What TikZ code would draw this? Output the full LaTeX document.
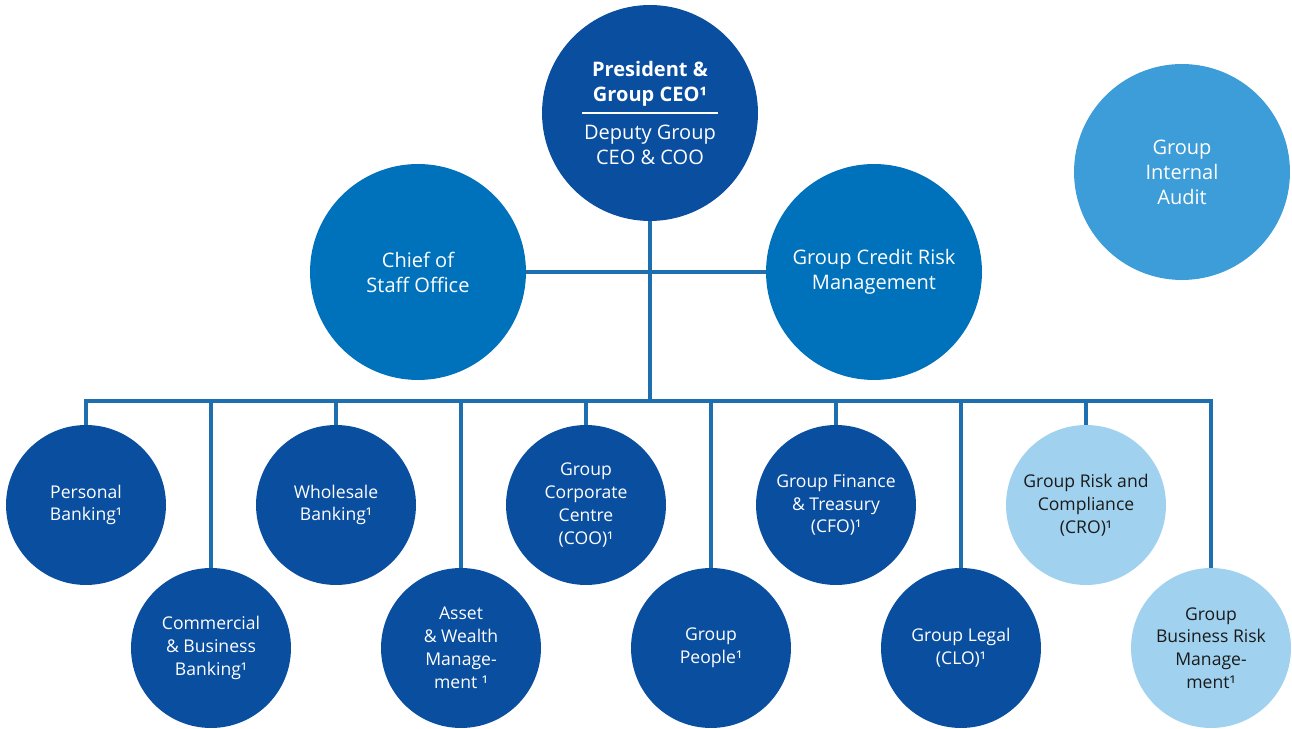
\documentclass[tikz,border=0pt]{standalone}
\usepackage{fontspec}
\setmainfont{Open Sans}
\usepackage{xcolor}
\usetikzlibrary{positioning}
\definecolor{navy}{HTML}{0A4EA0}
\definecolor{mid}{HTML}{0072BC}
\definecolor{sky}{HTML}{3D9DD8}
\definecolor{pale}{HTML}{A0D2F0}
\definecolor{wire}{HTML}{1E6FAF}
\definecolor{txt}{HTML}{1A1A1A}

\tikzset{
  unit/.style={circle,inner sep=0pt,align=center,text=white},
  big/.style={unit,minimum size=4.32cm,font=\fontsize{11.4}{14.2}\selectfont},
  small/.style={unit,minimum size=3.2cm,fill=navy,font=\fontsize{10}{13}\selectfont},
  paleunit/.style={small,fill=pale,text=txt},
  link/.style={wire,line width=2.3pt}
}

\begin{document}
\begin{tikzpicture}[x=0.02cm,y=-0.02cm]
  \useasboundingbox(0,0)rectangle(1292,729);
  % top level
  \node[big,fill=navy](ceo)at(650,113){\textbf{President \&}\\\textbf{Group CEO¹}\\[7pt]Deputy Group\\CEO \& COO};
  \draw[white,line width=0.6pt](582,113)--(718,113);
  \node[big,fill=mid](cos)at(418,272){Chief of\\Staff Office};
  \node[big,fill=mid](gcrm)at(874,272){Group Credit Risk\\Management};
  \node[big,fill=sky](gia)at(1182,172){Group\\Internal\\Audit};
  % business units
  \node[small](pb)at(86,505){Personal\\Banking¹};
  \node[small](cbb)at(211,648){Commercial\\\& Business\\Banking¹};
  \node[small](wb)at(336,505){Wholesale\\Banking¹};
  \node[small](awm)at(461,648){Asset\\\& Wealth\\Manage-\\ment ¹};
  \node[small](gcc)at(586,505){Group\\Corporate\\Centre\\(COO)¹};
  \node[small](gp)at(711,648){Group\\People¹};
  \node[small](gft)at(836,505){Group Finance\\\& Treasury\\(CFO)¹};
  \node[small](gl)at(961,648){Group Legal\\(CLO)¹};
  \node[paleunit](grc)at(1086,505){Group Risk and\\Compliance\\(CRO)¹};
  \node[paleunit](gbrm)at(1211,648){Group\\Business Risk\\Manage-\\ment¹};
  % connectors
  \coordinate(bus)at(649,401);
  \draw[link](ceo.south)--(ceo.south|-bus);
  \draw[link](cos.east)--(gcrm.west);
  \draw[link,line cap=rect](pb.north|-bus)--(gbrm.north|-bus);
  \foreach \n in {pb,cbb,wb,awm,gcc,gp,gft,gl,grc,gbrm}
    \draw[link](\n.north)--(\n.north|-bus);
\end{tikzpicture}
\end{document}
